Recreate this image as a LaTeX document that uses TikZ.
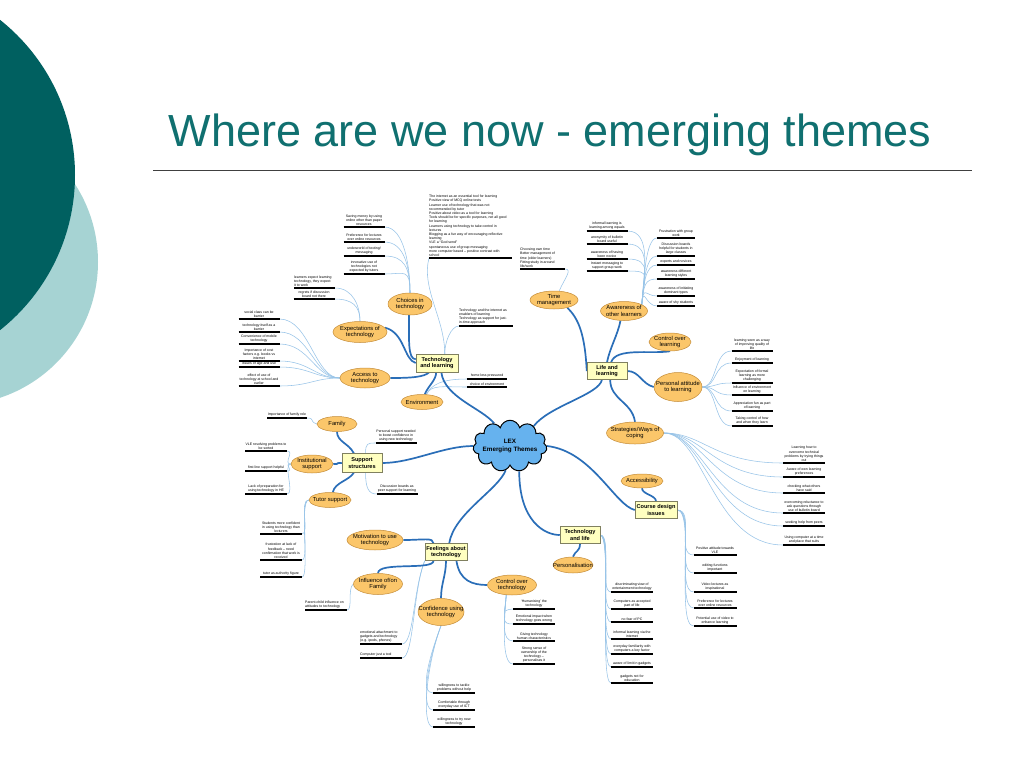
\documentclass[tikz,border=0pt]{standalone}
\usepackage{fontspec}
\setmainfont{Liberation Sans}
\usetikzlibrary{shapes.geometric,shapes.symbols}
\pgfdeclarelayer{bg}
\pgfsetlayers{bg,main}
\definecolor{tealdark}{RGB}{0,96,96}
\definecolor{teallight}{RGB}{166,211,211}
\definecolor{titlec}{RGB}{16,112,112}
\definecolor{ellfill}{RGB}{251,198,106}
\definecolor{elldraw}{RGB}{196,140,56}
\definecolor{boxfill}{RGB}{255,255,192}
\definecolor{boxdraw}{RGB}{128,128,96}
\definecolor{cloudfill}{RGB}{102,178,238}
\definecolor{thickblue}{RGB}{42,110,184}
\definecolor{thinblue}{RGB}{152,196,232}
\tikzset{
 leaf/.style={font=\fontsize{3.5}{4.2}\selectfont, inner xsep=0pt, inner ysep=1.3pt, align=center},
 leafleft/.style={leaf, align=left},
 ul/.style={line width=1.5pt, black},
 ell/.style={ellipse, fill=ellfill, draw=elldraw, line width=0.5pt, inner xsep=-8pt, inner ysep=-3pt, font=\fontsize{5.8}{6.6}\selectfont, align=center},
 box/.style={rectangle, fill=boxfill, draw=boxdraw, line width=0.5pt, inner sep=0.5pt, font=\bfseries\fontsize{5.6}{6.5}\selectfont, align=center},
 thinc/.style={draw=thinblue, line width=0.55pt},
 thickc/.style={draw=thickblue, line width=1.7pt},
}
\newcommand\leafc[5][42]{\node[leaf, anchor=south] (#2) at (#3,#4) {#5};
 \coordinate (#2-l) at ({#3-#1/2},#4); \coordinate (#2-r) at ({#3+#1/2},#4);
 \draw[ul] (#2-l) -- (#2-r);}
\newcommand\leafl[5][42]{\node[leafleft, anchor=south west] (#2) at (#3,#4) {#5};
 \coordinate (#2-l) at (#3,#4); \coordinate (#2-r) at ({#3+#1},#4);
 \draw[ul] (#2-l) -- (#2-r);}
\begin{document}
\begin{tikzpicture}[x=1pt,y=-1pt]
\useasboundingbox (0,0) rectangle (1024,768);
\begin{pgfonlayer}{bg}
\fill[white] (0,0) rectangle (1024,768);
\begin{scope}
\clip (0,0) rectangle (1024,768);
\fill[teallight] (-45,262) circle (143);
\fill[tealdark] (-123,175) circle (198);
\end{scope}
\end{pgfonlayer}
\node[font=\fontsize{45}{54}\selectfont, text=titlec, anchor=base, inner sep=0pt] (title) at (550,146) {Where are we now - emerging themes};
\coordinate (rulel) at (153,170); \coordinate (ruler) at (972,170);
\draw[black!75, line width=0.8pt] (rulel) -- (ruler);

% central cloud
\node[cloud, cloud puffs=11, aspect=1.6, fill=cloudfill, draw=black, line width=1pt, minimum width=74pt, minimum height=46pt, inner xsep=-5pt, inner ysep=-2pt, font=\bfseries\fontsize{6.3}{7.6}\selectfont, align=center] (lex) at (510,446) {LEX\\Emerging Themes};

% main boxes
\node[box, minimum width=42pt, minimum height=18pt] (tl) at (437,363) {Technology\\and learning};
\node[box, minimum width=40pt, minimum height=17pt] (ll) at (607,371) {Life and\\learning};
\node[box, minimum width=40pt, minimum height=19pt] (ss) at (362,463) {Support\\structures};
\node[box, minimum width=42pt, minimum height=17pt] (ft) at (446,552) {Feelings about\\technology};
\node[box, minimum width=40pt, minimum height=17pt] (tlife) at (580,535) {Technology\\and life};
\node[box, minimum width=42pt, minimum height=17pt] (cd) at (656,510) {Course design\\issues};

% ellipses
\node[ell, minimum width=44pt, minimum height=22pt] (choices) at (410,304) {Choices in\\technology};
\node[ell, minimum width=54pt, minimum height=21pt] (expect) at (360,332) {Expectations of\\technology};
\node[ell, minimum width=50pt, minimum height=20pt] (access) at (365,378) {Access to\\technology};
\node[ell, minimum width=42pt, minimum height=15pt] (env) at (422,402) {Environment};
\node[ell, minimum width=48pt, minimum height=18pt] (timem) at (554,300) {Time\\management};
\node[ell, minimum width=47pt, minimum height=19pt] (aware) at (624,311) {Awareness of\\other learners};
\node[ell, minimum width=42pt, minimum height=18pt] (ctrll) at (670,342) {Control over\\learning};
\node[ell, minimum width=48pt, minimum height=29pt] (pers) at (678,387) {Personal attitude\\to learning};
\node[ell, minimum width=57pt, minimum height=22pt] (strat) at (635,433) {Strategies/Ways of\\coping};
\node[ell, minimum width=42pt, minimum height=14pt] (acc) at (642,481) {Accessibility};
\node[ell, minimum width=40pt, minimum height=15pt] (family) at (337,424) {Family};
\node[ell, minimum width=42pt, minimum height=18pt] (inst) at (312,464) {Institutional\\support};
\node[ell, minimum width=42pt, minimum height=15pt] (tutor) at (330,500) {Tutor support};
\node[ell, minimum width=56pt, minimum height=20pt] (motiv) at (375,540) {Motivation to use\\technology};
\node[ell, minimum width=49pt, minimum height=21pt] (infl) at (378,584) {Influence of/on\\Family};
\node[ell, minimum width=46pt, minimum height=27pt] (conf) at (441,612) {Confidence using\\technology};
\node[ell, minimum width=49pt, minimum height=20pt] (ctrlt) at (512,585) {Control over\\technology};
\node[ell, minimum width=40pt, minimum height=16pt] (perso) at (573,565) {Personalisation};

% leaves: choices
\leafc[41]{c1}{364}{227}{Saving money by using\\online other than paper\\resources}
\leafc[41]{c2}{364}{242}{Preference for lectures\\over online resources}
\leafc[41]{c3}{364}{256}{underworld of texting/\\messaging}
\leafc[41]{c4}{364}{274}{innovative use of\\technologies not\\expected by tutors}
% expectations
\leafl[41]{e1}{294}{288}{learners expect learning\\technology, they expect\\it to work}
\leafc[41]{e2}{314}{299}{regrets if discussion\\board not there}
% access
\leafc[41]{a1}{259}{319}{social class can be\\barrier}
\leafc[41]{a2}{259}{332}{technology itself as a\\barrier}
\leafc[41]{a3}{259}{344}{Convenience of mobile\\technology}
\leafc[41]{a4}{259}{361}{Importance of cost\\factors e.g. books vs\\internet}
\leafc[41]{a5}{259}{367}{issues of age and use}
\leafc[41]{a6}{259}{386}{effect of use of\\technology at school and\\earlier}
% technology and learning
\leafl[83]{big}{429}{258}{The internet as an essential tool for learning\\Positive view of MCQ online tests\\Learner use of technology that was not\\recommended by tutor\\Positive about video as a tool for learning\\Tools should be for specific purposes, not all good\\for learning\\Learners using technology to take control in\\lectures\\Blogging as a fun way of encouraging reflective\\learning\\VLE a ``God send''\\spontaneous use of group messaging\\more computer based -- positive contrast with\\school}
\leafl[54]{tl2}{459}{326}{Technology and the internet as\\enablers of learning\\Technology as support for just-\\in-time approach}
\leafc[40]{env1}{487}{379}{home less pressured}
\leafc[40]{env2}{487}{387}{choice of environment}
% time management
\leafl[45]{tm1}{520}{269}{Choosing own time\\Better management of\\time (older learners)\\Fitting study in around\\life/work}
% awareness
\leafc[41]{aw1}{607}{231}{informal learning is\\learning among equals}
\leafc[41]{aw2}{607}{244}{anonymity of bulletin\\board useful}
\leafc[41]{aw3}{607}{259}{awareness of having\\been novice}
\leafc[41]{aw4}{607}{271}{Instant messaging to\\support group work}
\leafc[38]{aw5}{676}{238}{Frustration with group\\work}
\leafc[38]{aw6}{676}{256}{Discussion boards\\helpful for students in\\large classes}
\leafc[38]{aw7}{676}{265}{experts and novices}
\leafc[38]{aw8}{676}{279}{awareness different\\learning styles}
\leafc[38]{aw9}{676}{296}{awareness of initiating\\dominant types}
\leafc[38]{aw10}{676}{306}{aware of shy students}
% personal attitude
\leafc[41]{p1}{752}{351}{learning seen as a way\\of improving quality of\\life}
\leafc[41]{p2}{752}{363}{Enjoyment of learning}
\leafc[41]{p3}{752}{383}{Expectation of formal\\learning as more\\challenging}
\leafc[41]{p4}{752}{395}{Influence of environment\\on learning}
\leafc[41]{p5}{752}{411}{Appreciation fun as part\\of learning}
\leafc[41]{p6}{752}{426}{Taking control of how\\and when they learn}
% strategies
\leafc{s1}{804}{463}{Learning how to\\overcome technical\\problems by trying things\\out}
\leafc{s2}{804}{477}{Aware of own learning\\preferences}
\leafc{s3}{804}{493}{checking what others\\have said}
\leafc{s4}{804}{513}{overcoming reluctance to\\ask questions through\\use of bulletin board}
\leafc{s5}{804}{526}{seeking help from peers}
\leafc{s6}{804}{545}{Using computer at a time\\and place that suits}
% course design
\leafc[43]{d1}{715}{555}{Positive attitude towards\\VLE}
\leafc[43]{d2}{715}{573}{editing functions\\important}
\leafc[43]{d3}{715}{592}{Video lectures as\\inspirational}
\leafc[43]{d4}{715}{608}{Preference for lectures\\over online resources}
\leafc[43]{d5}{715}{626}{Potential use of video to\\enhance learning}
% technology and life
\leafc{t1}{632}{592}{discriminating view of\\entertainment technology}
\leafc{t2}{632}{609}{Computers as accepted\\part of life}
\leafc{t3}{632}{622}{no fear of PC}
\leafc{t4}{632}{639}{informal learning via the\\internet}
\leafc{t5}{632}{654}{everyday familiarity with\\computers a key factor}
\leafc{t6}{632}{667}{aware of limit in gadgets}
\leafc{t7}{632}{683}{gadgets not for\\education}
% control over technology
\leafc{k1}{534}{609}{`Humanising' the\\technology}
\leafc{k2}{534}{624}{Emotional impact when\\technology goes wrong}
\leafc{k3}{534}{641}{Giving technology\\human characteristics}
\leafc{k4}{534}{664}{Strong sense of\\ownership of the\\technology --\\personalises it}
% feelings
\leafl{f1}{360}{644}{emotional attachment to\\gadgets and technology\\(e.g. ipods, phones)}
\leafl{f2}{360}{658}{Computer just a tool}
\leafl{i1}{305}{610}{Parent-child influence on\\attitudes to technology}
% confidence
\leafc{cf1}{454}{693}{willingness to tackle\\problems without help}
\leafc{cf2}{454}{710}{Comfortable through\\everyday use of ICT}
\leafc{cf3}{454}{727}{willingness to try new\\technology}
% support structures
\leafc[40]{fa1}{287}{418}{Importance of family role}
\leafc{in1}{266}{451}{VLE resolving problems to\\be sorted}
\leafc{in2}{266}{471}{first line support helpful}
\leafc{in3}{266}{494}{Lack of preparation for\\using technology in HE}
\leafc{tu1}{281}{534}{Students more confident\\in using technology than\\lecturers}
\leafc{tu2}{281}{560}{frustration at lack of\\feedback -- need\\confirmation that work is\\received}
\leafc{tu3}{281}{577}{tutor as authority figure}
\leafc[41]{sr1}{396}{443}{Personal support needed\\to boost confidence in\\using new technology}
\leafc[41]{sr2}{397}{494}{Discussion boards as\\peer support for learning}

\begin{pgfonlayer}{bg}
% thin connectors
\foreach \n in {c1,c2,c3,c4} \draw[thinc] (\n-r) .. controls +(20,0) and +(0,-25) .. (choices.north);
\foreach \n in {e1,e2} \draw[thinc] (\n-r) .. controls +(18,0) and +(0,-15) .. (expect.north);
\foreach \n in {a1,a2,a3,a4,a5,a6} \draw[thinc] (\n-r) .. controls +(30,0) and +(-25,0) .. (access.west);
\draw[thinc] (big-l) .. controls +(-8,30) and +(0,-35) .. (tl.50);
\draw[thinc] (tl2-l) .. controls +(-8,0) and +(0,-12) .. (tl.50);
\foreach \n in {env1,env2} \draw[thinc] (\n-l) .. controls +(-25,0) and +(5,-10) .. (env.60);
\draw[thinc] (tm1-r) .. controls +(8,0) and +(5,-12) .. (timem.60);
\foreach \n in {aw1,aw2,aw3,aw4} \draw[thinc] (\n-r) .. controls +(25,0) and +(2,-30) .. (aware.20);
\foreach \n in {aw5,aw6,aw7,aw8,aw9,aw10} \draw[thinc] (\n-l) .. controls +(-12,0) and +(2,-20) .. (aware.20);
\foreach \n in {p1,p2,p3,p4,p5,p6} \draw[thinc] (\n-l) .. controls +(-18,0) and +(15,0) .. (pers.east);
\foreach \n in {s1,s2,s3,s4,s5,s6} \draw[thinc] (\n-l) .. controls +(-70,0) and +(40,0) .. (strat.east);
\foreach \n in {d1,d2,d3,d4,d5} \draw[thinc] (cd.east) .. controls +(18,0) and +(-18,0) .. (\n-l);
\foreach \n in {t1,t2,t3,t4,t5,t6,t7} \draw[thinc] (tlife.east) .. controls +(12,0) and +(-12,0) .. (\n-l);
\foreach \n in {k1,k2,k3,k4} \draw[thinc] (ctrlt.240) .. controls +(-2,25) and +(-12,0) .. (\n-l);
\foreach \n in {f1,f2} \draw[thinc] (ft.south west) .. controls +(-12,30) and +(12,0) .. (\n-r);
\draw[thinc] (i1-r) .. controls +(6,0) and +(-6,5) .. (infl.west);
\foreach \n in {cf1,cf2,cf3} \draw[thinc] (conf.south) .. controls +(-15,40) and +(-12,0) .. (\n-l);
\draw[thinc] (fa1-r) .. controls +(8,0) and +(-8,-3) .. (family.west);
\foreach \n in {in1,in2,in3} \draw[thinc] (\n-r) .. controls +(8,0) and +(-8,0) .. (inst.west);
\foreach \n in {tu1,tu2,tu3} \draw[thinc] (tutor.west) .. controls +(-10,0) and +(8,0) .. (\n-r);
\draw[thinc] (ss.70) .. controls +(0,-10) and +(-8,0) .. (sr1-l);
\draw[thinc] (ss.290) .. controls +(0,15) and +(-8,0) .. (sr2-l);
% thick connectors
\draw[thickc] (tl.295) .. controls +(3,25) and +(-12,-15) .. (lex.125);
\draw[thickc] (choices.265) .. controls +(0,25) and +(-8,0) .. (tl.170);
\draw[thickc] (expect.10) .. controls +(20,5) and +(-12,-3) .. (tl.west);
\draw[thickc] (access.east) .. controls +(20,0) and +(-5,5) .. (tl.230);
\draw[thickc] (env.70) .. controls +(3,-8) and +(0,8) .. (tl.265);
\draw[thickc] (lex.40) .. controls +(15,-20) and +(-3,15) .. (ll.240);
\draw[thickc] (timem.330) .. controls +(10,10) and +(-2,-40) .. (ll.west);
\draw[thickc] (aware.250) .. controls +(-3,15) and +(3,-15) .. (ll.north);
\draw[thickc] (ll.65) .. controls +(5,-15) and +(-20,3) .. (ctrll.south);
\draw[thickc] (ll.east) .. controls +(12,0) and +(-12,-3) .. (pers.west);
\draw[thickc] (ll.290) .. controls +(0,20) and +(-3,-20) .. (strat.north);
\draw[thickc] (lex.west) .. controls +(-30,0) and +(30,0) .. (ss.east);
\draw[thickc] (family.south) .. controls +(0,10) and +(-5,-10) .. (ss.130);
\draw[thickc] (inst.east) .. controls +(10,0) and +(-10,0) .. (ss.west);
\draw[thickc] (tutor.70) .. controls +(2,-10) and +(-5,8) .. (ss.230);
\draw[thickc] (ft.70) .. controls +(5,-30) and +(-8,20) .. (lex.260);
\draw[thickc] (motiv.east) .. controls +(20,0) and +(0,-6) .. (ft.145);
\draw[thickc] (infl.north) .. controls +(0,-12) and +(0,10) .. (ft.215);
\draw[thickc] (ft.south) .. controls +(0,15) and +(0,-15) .. (conf.north);
\draw[thickc] (ft.320) .. controls +(3,20) and +(-15,0) .. (ctrlt.west);
\draw[thickc] (lex.290) .. controls +(0,50) and +(-15,0) .. (tlife.west);
\draw[thickc] (tlife.south) .. controls +(0,8) and +(2,-6) .. (perso.north);
\draw[thickc] (lex.east) .. controls +(45,5) and +(-20,-5) .. (cd.west);
\draw[thickc] (cd.north) .. controls +(0,-6) and +(0,6) .. (acc.south);
\end{pgfonlayer}
\end{tikzpicture}
\end{document}
